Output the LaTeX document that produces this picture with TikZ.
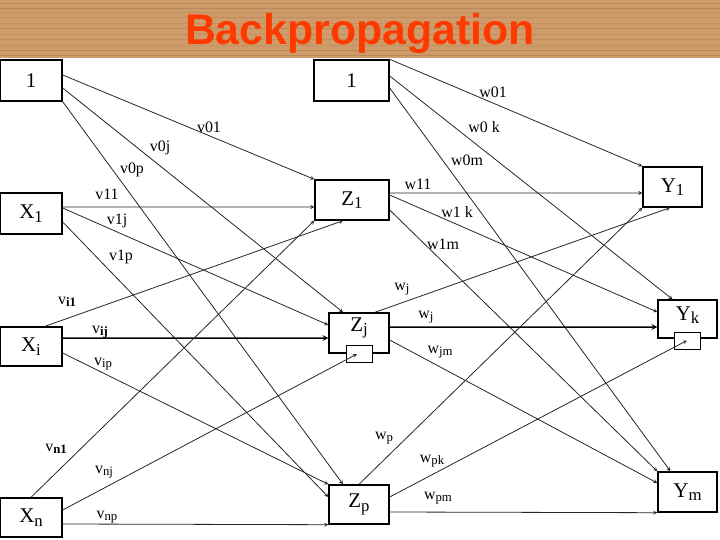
\documentclass[tikz,border=0pt]{standalone}
\usepackage{fontspec}
\setmainfont{Liberation Serif}
\newfontfamily\titlefont{Liberation Sans}
\definecolor{wood}{RGB}{206,156,106}
\definecolor{grain}{RGB}{170,118,72}
\definecolor{titlered}{RGB}{255,58,0}
\newcommand{\lo}[1]{\raisebox{-0.35ex}{\scalebox{0.8}{#1}}}

\begin{document}
\begin{tikzpicture}[>=stealth, x=1bp, y=-1bp,
  unit/.style={draw, line width=1.4bp, minimum height=40bp, inner sep=0pt, font=\fontsize{21}{21}\selectfont},
  subbox/.style={draw, fill=white, line width=1bp, minimum width=26bp, minimum height=17bp, inner sep=0pt},
  wt/.style={font=\fontsize{16}{16}\selectfont, inner sep=1bp},
  conn/.style={->, line width=0.8bp, black!85}]
  \useasboundingbox (0,0) rectangle (720,540);
  % wooden header
  \fill[wood] (0,0) rectangle (720,58);
  \foreach \y/\o in {3/.35,8/.5,12/.25,17/.4,23/.3,28/.45,34/.25,39/.4,45/.3,50/.45,55/.5}
    \draw[grain, opacity=\o, line width=0.7bp] (0,\y) -- (720,\y);
  \node[text=titlered, font=\titlefont\bfseries\fontsize{43}{43}\selectfont, anchor=base] (title) at (360,45) {Backpropagation};

  % input layer
  \node[unit, minimum width=62bp, minimum height=41bp] (in1) at (31,80.5) {1};
  \node[unit, minimum width=62bp, minimum height=41bp] (x1) at (31,213.5) {X\lo{1}};
  \node[unit, minimum width=62bp, minimum height=39bp] (xi) at (31,346.5) {X\lo{i}};
  \node[unit, minimum width=62bp, minimum height=39bp] (xn) at (31,517.5) {X\lo{n}};
  % hidden layer
  \node[unit, minimum width=75bp, minimum height=41bp] (h1) at (351.5,80.5) {1};
  \node[unit, minimum width=74bp] (z1) at (352,200) {Z\lo{1}};
  \node[unit, minimum width=60bp] (zj) at (359,333) {};
  \node[font=\fontsize{21}{21}\selectfont, inner sep=0pt] (zjt) at ([yshift=5bp]zj.center) {Z\lo{j}};
  \node[subbox] (zjs) at (359,354) {};
  \node[unit, minimum width=60bp, minimum height=39bp] (zp) at (359,504.5) {Z\lo{p}};
  % output layer
  \node[unit, minimum width=59bp] (y1) at (672.5,187) {Y\lo{1}};
  \node[unit, minimum width=59bp, minimum height=38bp] (yk) at (687.5,319) {};
  \node[font=\fontsize{21}{21}\selectfont, inner sep=0pt] (ykt) at ([yshift=4bp]yk.center) {Y\lo{k}};
  \node[subbox] (yks) at (687,340.5) {};
  \node[unit, minimum width=59bp] (ym) at (687.5,492) {Y\lo{m}};

  % v weights
  \draw[conn] ([yshift=5.5bp]in1.east) -- (z1.north west);
  \draw[conn] ([yshift=-7.5bp]in1.east) -- ([xshift=-16bp]zj.north);
  \draw[conn] (in1.south east) -- ([xshift=-16bp]zp.north);
  \draw[conn] ([yshift=6.5bp]x1.east) -- ([yshift=-7bp]z1.west);
  \draw[conn] ([yshift=5.5bp]x1.east) -- ([yshift=8bp]zj.west);
  \draw[conn] ([yshift=-8.5bp]x1.east) -- ([yshift=7.5bp]zp.west);
  \draw[conn] ([xshift=14bp]xi.north) -- ([xshift=-9bp]z1.south);
  \draw[conn, line width=1.5bp, black] ([yshift=8.5bp]xi.east) -- ([yshift=-5bp]zj.west);
  \draw[conn] ([yshift=-6.5bp]xi.east) -- (zp.north west);
  \draw[conn] (xn.north) -- (z1.south west);
  \draw[conn] ([yshift=7.5bp]xn.east) -- ([xshift=-2bp]zjs.center);
  \draw[conn] ([yshift=-6.5bp]xn.east) -- (zp.south west);

  % w weights
  \draw[conn] (h1.north east) -- (y1.north west);
  \draw[conn] ([yshift=4.5bp]h1.east) -- ([xshift=-15bp]yk.north);
  \draw[conn] ([yshift=-7.5bp]h1.east) -- ([xshift=-17bp]ym.north);
  \draw[conn] ([yshift=7bp]z1.east) -- ([yshift=-6bp]y1.west);
  \draw[conn] ([yshift=5bp]z1.east) -- ([yshift=7bp]yk.west);
  \draw[conn] ([yshift=-10bp]z1.east) -- (ym.north west);
  \draw[conn] ([xshift=16bp]zj.north) -- ([xshift=-2.5bp]y1.south);
  \draw[conn, line width=1.5bp, black] ([yshift=6bp]zj.east) -- ([yshift=-8bp]yk.west);
  \draw[conn] ([yshift=-7bp]zj.east) -- ([yshift=9bp]ym.west);
  \draw[conn] (zp.north) -- (y1.south west);
  \draw[conn] ([yshift=7.5bp]zp.east) -- (yks.center);
  \draw[conn] ([yshift=-7.5bp]zp.east) -- (ym.south west);

  % labels
  \node[wt] (lv01) at (209,127) {v01};
  \node[wt] (lv0j) at (160,148) {v0j};
  \node[wt] (lv0p) at (132,170) {v0p};
  \node[wt] (lv11) at (107,194) {v11};
  \node[wt] (lv1j) at (117,221) {v1j};
  \node[wt] (lv1p) at (121,257) {v1p};
  \node[wt] (lvi1) at (67,302) {v\lo{\bfseries i1}};
  \node[wt] (lvij) at (100,332) {v\lo{\bfseries ij}};
  \node[wt] (lvip) at (103,364) {v\lo{ip}};
  \node[wt] (lvn1) at (56,449) {v\lo{\bfseries n1}};
  \node[wt] (lvnj) at (104,472) {v\lo{nj}};
  \node[wt] (lvnp) at (107,517) {v\lo{np}};
  \node[wt] (lw01) at (493,92) {w01};
  \node[wt] (lw0k) at (484,127) {w0 k};
  \node[wt] (lw0m) at (467,160) {w0m};
  \node[wt] (lw11) at (418,184) {w11};
  \node[wt] (lw1k) at (457,212) {w1 k};
  \node[wt] (lw1m) at (443,244) {w1m};
  \node[wt] (lwj1) at (402,289) {w\lo{j}};
  \node[wt] (lwjk) at (426,317) {w\lo{j}};
  \node[wt] (lwjm) at (440,352) {w\lo{jm}};
  \node[wt] (lwp1) at (384,438) {w\lo{p}};
  \node[wt] (lwpk) at (432,461) {w\lo{pk}};
  \node[wt] (lwpm) at (438,498) {w\lo{pm}};
\end{tikzpicture}
\end{document}
